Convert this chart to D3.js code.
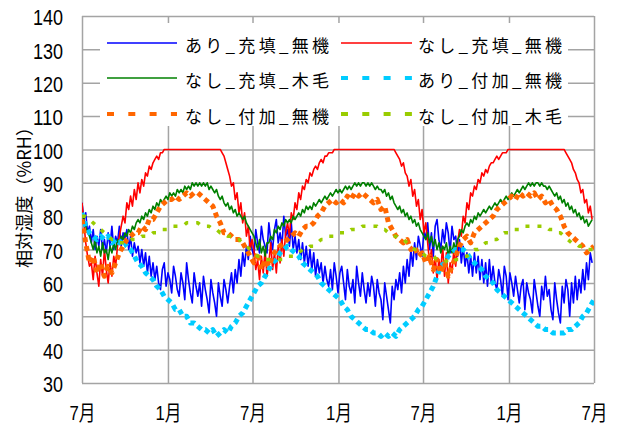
<!DOCTYPE html>
<html>
<head>
<meta charset="utf-8">
<script src="https://cdn.jsdelivr.net/npm/d3@7"></script>
<style>
  html, body { margin: 0; padding: 0; background: #ffffff; }
  svg { display: block; }
</style>
</head>
<body>
<svg id="chart" width="620" height="425"></svg>
<script>
// ---- data -------------------------------------------------------------
// Relative humidity (%RH) from 2001-07-01 over three years.
// Solid series are sampled every 4 days, dashed series every 8 days.
const seriesNames = [
  "あり_充填_無機", "なし_充填_無機", "なし_充填_木毛",
  "あり_付加_無機", "なし_付加_無機", "なし_付加_木毛"
];
const sampleStepDays = [4, 4, 4, 8, 8, 8];

const ariJutenMuki = [
  84,79,81,75,77,72,76,70,74,71,
  76,70,73,69,75,71,77,70,74,72,
  77,71,75,73,76,70,74,68,72,69,
  71,66,70,65,69,63,68,62,66,61,
  65,60,58,64,66,59,63,61,57,65,
  62,58,56,63,60,55,66,61,57,54,
  63,59,56,60,53,62,58,55,51,61,
  57,54,50,60,56,53,61,58,54,59,
  63,57,64,60,67,62,69,65,71,67,
  74,70,68,76,72,69,77,73,71,69,
  78,73,70,76,79,72,75,71,80,74,
  76,71,78,70,74,69,73,67,72,66,
  71,65,70,64,69,62,67,63,66,60,
  65,61,59,64,58,66,62,57,63,65,
  60,55,64,59,57,61,54,65,60,56,
  63,58,54,60,56,62,59,53,61,57,
  55,49,60,56,52,48,59,55,61,58,
  63,57,65,60,67,62,70,65,72,67,
  74,71,68,76,73,78,70,75,68,77,
  79,73,70,76,72,78,75,69,77,73,
  74,68,73,66,71,65,69,63,68,62,
  69,63,68,61,67,60,66,59,67,60,
  65,60,58,64,61,56,65,62,55,63,
  60,56,62,58,54,59,61,52,60,57,
  55,51,61,57,53,50,59,55,62,56,
  58,52,49,60,55,51,48,59,54,61,
  58,50,60,54,62,55,61,57,64,58,
  66,61,69,66
];

const nashiJutenMuki = [
  84,78,72,68,65,66,61,68,63,59,
  67,62,70,64,60,66,62,68,65,71,
  74,77,80,78,84,82,86,83,88,85,
  90,87,91,89,93,92,95,94,96,97,
  98,97,99,99,100,100,100,100,100,100,
  100,100,100,100,100,100,100,100,100,100,
  100,100,100,100,100,100,100,100,100,100,
  100,100,100,100,100,99,98,96,94,92,
  89,90,85,87,81,84,78,81,74,77,
  70,73,70,64,67,61,68,63,70,62,
  66,72,64,69,63,71,66,73,68,75,
  78,74,81,79,84,82,87,85,89,88,
  91,90,93,92,94,95,94,96,97,96,
  98,98,99,99,99,100,100,100,100,100,
  100,100,100,100,100,100,100,100,100,100,
  100,100,100,100,100,100,100,100,100,100,
  100,100,100,100,100,100,100,100,99,98,
  97,95,96,93,92,89,91,86,88,83,
  85,79,82,75,78,72,66,70,63,68,
  61,67,64,71,62,69,60,66,63,70,
  65,72,76,74,80,78,84,82,87,86,
  89,88,91,90,93,92,94,93,95,96,
  96,97,98,97,98,99,99,99,100,100,
  100,100,100,100,100,100,100,100,100,100,
  100,100,100,100,100,100,100,100,100,100,
  100,100,100,100,100,100,100,100,100,99,
  98,97,96,94,93,91,90,87,88,84,
  85,81,83,79
];

const nashiJutenMokumo = [
  81,79,77,75,74,72,70,73,69,71,
  68,72,69,70,67,71,69,72,70,73,
  72,74,73,75,74,76,75,77,76,78,
  79,78,80,79,81,80,82,81,83,82,
  84,83,85,84,85,86,85,87,86,87,
  86,88,87,88,87,89,88,89,88,90,
  89,90,89,90,89,90,89,90,88,89,
  88,87,88,86,85,86,84,83,84,82,
  83,81,82,80,81,80,79,80,78,77,
  76,75,74,72,70,73,69,71,68,72,
  72,74,73,76,75,77,76,78,77,79,
  78,79,78,80,79,80,81,80,82,81,
  83,82,83,82,84,83,84,85,84,85,
  86,85,86,87,86,87,88,87,88,87,
  88,89,88,89,88,89,90,89,90,89,
  90,90,89,90,89,90,89,88,89,88,
  88,87,88,86,87,85,86,84,83,82,
  83,81,82,80,81,79,80,78,79,77,
  78,76,75,74,73,75,72,74,71,73,
  70,72,69,71,70,72,68,71,69,72,
  70,73,74,76,75,77,78,77,79,78,
  80,79,81,80,81,82,81,82,83,82,
  83,84,83,84,85,84,85,86,85,86,
  87,86,87,88,87,88,89,88,89,90,
  89,90,89,90,90,89,90,89,89,88,
  89,88,87,86,87,85,86,84,85,83,
  84,82,83,81,82,80,81,79,80,78,
  79,77,78,79
];

const ariFukaMuki = [
  81,77,75,74,73,74,73,74,72,73,
  72,73,71,70,68,66,65,63,62,61,
  59,58,56,55,54,52,52,50,50,48,
  48,47,46,46,45,46,44,45,46,45,
  47,48,50,51,53,55,57,59,60,62,
  64,66,67,69,70,71,70,69,68,66,
  65,64,63,62,60,59,58,57,56,55,
  53,52,50,49,48,47,46,46,45,45,
  44,45,44,45,44,46,47,48,49,50,
  52,53,55,57,59,62,65,66,68,69,
  70,70,70,69,67,66,65,64,62,61,
  60,58,57,56,55,54,53,52,51,50,
  49,48,47,47,46,46,45,45,45,45,
  46,46,47,48,50,51,53,55
];

const nashiFukaMuki = [
  79,72,66,68,63,66,62,65,63,66,
  69,71,73,74,75,75,77,76,79,79,
  81,83,84,85,85,86,85,86,87,86,
  87,87,86,85,84,83,80,78,75,75,
  74,73,73,72,70,68,66,69,64,67,
  65,68,70,71,72,73,74,75,74,76,
  77,77,78,80,81,83,84,85,84,85,
  84,86,85,87,86,87,86,85,84,85,
  82,83,78,76,74,73,72,73,70,71,
  68,69,66,68,64,67,63,66,62,65,
  68,71,73,74,72,75,76,77,78,79,
  80,82,83,84,85,86,85,87,86,87,
  86,87,85,86,84,85,83,82,80,77,
  75,74,73,72,71,69,70,71
];

const nashiFukaMokumo = [
  80,80,79,78,77,76,75,74,73,73,
  72,72,72,73,73,73,74,74,74,75,
  75,76,76,76,77,77,77,77,78,78,
  78,78,77,77,77,76,76,75,75,74,
  74,73,73,72,71,70,69,68,68,67,
  67,67,67,67,67,68,68,68,69,70,
  70,71,71,72,73,73,74,74,74,75,
  75,75,76,76,76,77,77,77,77,77,
  76,76,75,74,74,73,73,72,71,70,
  70,69,68,68,68,67,67,67,66,66,
  67,67,68,68,69,70,70,71,72,72,
  73,73,74,75,75,76,76,76,77,77,
  77,77,77,77,77,76,76,75,75,74,
  73,72,72,71,71,70,70,70
];

const seriesValues = [
  ariJutenMuki, nashiJutenMuki, nashiJutenMokumo,
  ariFukaMuki, nashiFukaMuki, nashiFukaMokumo
];

const yTicks = [30, 40, 50, 60, 70, 80, 90, 100, 110, 120, 130, 140];
const xTickDates = ["2001-07-01", "2002-01-01", "2002-07-01", "2003-01-01",
                    "2003-07-01", "2004-01-01", "2004-07-01"];
const xTickLabels = ["7月", "1月", "7月", "1月", "7月", "1月", "7月"];
const yAxisTitle = "相対湿度（%RH）";

// ---- styles -----------------------------------------------------------
const seriesStyles = [
  { color: "#0000ff", width: 1.6, dash: null,  legendWidth: 1.3, legendDash: null },
  { color: "#ff0000", width: 1.6, dash: null,  legendWidth: 1.3, legendDash: null },
  { color: "#008000", width: 1.6, dash: null,  legendWidth: 1.3, legendDash: null },
  { color: "#00ccff", width: 5,   dash: "5,4", legendWidth: 4,   legendDash: "7,14.3" },
  { color: "#ff6600", width: 5,   dash: "5,4", legendWidth: 4,   legendDash: "7,14.3" },
  { color: "#99cc00", width: 3.5, dash: "4,8", legendWidth: 4,   legendDash: "7,14.3" }
];
const gridColor = "#a4a4a4";

// ---- layout -----------------------------------------------------------
const plot = { left: 82, right: 594, top: 16, bottom: 383 };
const svg = d3.select("#chart");
svg.append("rect").attr("width", 620).attr("height", 425).attr("fill", "#fff");

const parseDay = d3.utcParse("%Y-%m-%d");
const startDate = parseDay("2001-07-01");
const dayMs = 864e5;

const x = d3.scaleUtc()
  .domain([startDate, parseDay("2004-07-01")])
  .range([plot.left, plot.right]);
const y = d3.scaleLinear().domain([30, 140]).range([plot.bottom, plot.top]);

// horizontal grid + y labels
const yAxis = svg.append("g")
  .attr("transform", `translate(${plot.left},0)`)
  .call(d3.axisLeft(y).tickValues(yTicks)
        .tickSize(-(plot.right - plot.left)).tickPadding(19));
yAxis.select(".domain").remove();
yAxis.selectAll(".tick line").attr("stroke", gridColor).attr("stroke-width", 1.5);
yAxis.selectAll(".tick text")
  .attr("fill", "#000")
  .attr("dy", "0.40em")
  .style("font-family", "'Liberation Sans', Arimo, sans-serif")
  .style("font-size", "22px")
  .attr("textLength", d => String(d).length * 10)
  .attr("lengthAdjust", "spacingAndGlyphs");

// vertical grid + x labels
const xAxis = svg.append("g")
  .attr("transform", `translate(0,${plot.bottom})`)
  .call(d3.axisBottom(x).tickValues(xTickDates.map(parseDay))
        .tickFormat((d, i) => xTickLabels[i])
        .tickSize(-(plot.bottom - plot.top)).tickPadding(22));
xAxis.select(".domain").remove();
xAxis.selectAll(".tick line").attr("stroke", gridColor).attr("stroke-width", 1.5);
xAxis.selectAll(".tick text")
  .attr("fill", "#000")
  .style("font-family", "'Liberation Sans', 'Noto Sans CJK JP', sans-serif")
  .style("font-size", "21px")
  .attr("textLength", 26)
  .attr("lengthAdjust", "spacingAndGlyphs");

// y axis title
svg.append("text")
  .attr("transform", "translate(31,193) rotate(-90)")
  .attr("text-anchor", "middle")
  .attr("textLength", 150)
  .attr("lengthAdjust", "spacingAndGlyphs")
  .style("font-family", "'Noto Sans CJK JP', sans-serif")
  .style("font-size", "18px")
  .attr("fill", "#000")
  .text(yAxisTitle);

// ---- series -----------------------------------------------------------
svg.append("clipPath").attr("id", "plotClip")
  .append("rect")
  .attr("x", plot.left).attr("y", plot.top)
  .attr("width", plot.right - plot.left).attr("height", plot.bottom - plot.top);

const line = d3.line().x(d => x(d.date)).y(d => y(d.v));
const seriesLayer = svg.append("g").attr("clip-path", "url(#plotClip)");

seriesValues.forEach((vals, s) => {
  const step = sampleStepDays[s];
  const pts = vals.map((v, i) => ({ date: new Date(startDate.getTime() + i * step * dayMs), v }));
  const st = seriesStyles[s];
  seriesLayer.append("path")
    .datum(pts)
    .attr("fill", "none")
    .attr("stroke", st.color)
    .attr("stroke-width", st.width)
    .attr("stroke-linejoin", "round")
    .attr("stroke-dasharray", st.dash)
    .attr("d", line);
});

// ---- legend -----------------------------------------------------------
const legend = svg.append("g");
legend.append("rect")
  .attr("x", 100).attr("y", 23).attr("width", 468).attr("height", 103)
  .attr("fill", "#fff");
const legendCols = [{ x1: 107, x2: 177, tx: 185 }, { x1: 341, x2: 412, tx: 418 }];
const legendRows = [43, 78, 114];
seriesNames.forEach((name, i) => {
  const c = legendCols[i % 2];
  const ry = legendRows[Math.floor(i / 2)];
  const st = seriesStyles[i];
  legend.append("line")
    .attr("x1", c.x1).attr("x2", c.x2).attr("y1", ry).attr("y2", ry)
    .attr("stroke", st.color)
    .attr("stroke-width", st.legendWidth)
    .attr("stroke-dasharray", st.legendDash);
  legend.append("text")
    .attr("x", c.tx).attr("y", ry + 8.5)
    .attr("textLength", 144)
    .attr("lengthAdjust", "spacing")
    .style("font-family", "'Noto Sans CJK JP', sans-serif")
    .style("font-size", "17px")
    .attr("fill", "#000")
    .text(name);
});
</script>
</body>
</html>
